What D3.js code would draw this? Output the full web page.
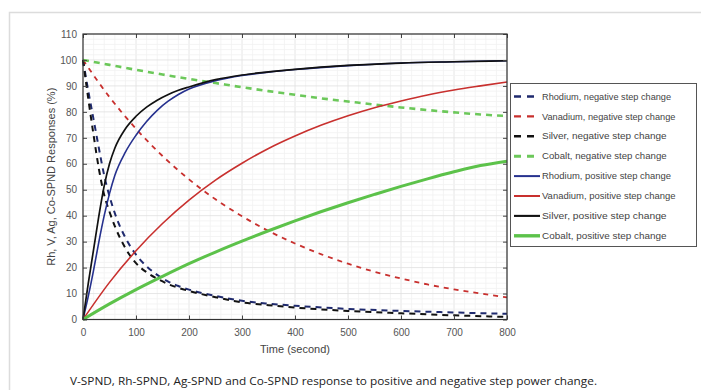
<!DOCTYPE html>
<html>
<head>
<meta charset="utf-8">
<script src="https://cdn.jsdelivr.net/npm/d3@7"></script>
<style>
  body { margin: 0; background: #fff; }
  svg { display: block; }
</style>
</head>
<body>
<div id="chart"></div>
<script>
// time grids (seconds)
const tFast = [0, 10, 20, 30, 40, 50, 60, 80, 100, 120, 140, 160, 180, 200, 250, 300, 350, 400, 500, 600, 700, 800];
const tSlow = [0, 50, 100, 150, 200, 250, 300, 350, 400, 450, 500, 550, 600, 650, 700, 750, 800];

// responses (%)
const rhNeg = [100, 88, 77, 66, 55.5, 47.5, 41, 31.5, 25, 20.5, 17.2, 14.7, 12.9, 11.5, 9.1, 7.2, 6.1, 5.3, 4.1, 3.3, 2.7, 2.2];
const agNeg = [100, 85, 71, 58, 48, 41.5, 36, 27.5, 21.7, 18.2, 15.7, 13.7, 12.2, 11, 8.6, 6.6, 5.5, 4.6, 3.3, 2.4, 1.6, 1.0];
const rhPos = [0, 9, 19, 30, 40, 48.5, 55.5, 64.5, 71, 76.3, 80.6, 84, 86.7, 88.8, 92, 94, 95.3, 96.3, 97.8, 98.8, 99.3, 99.7];
const agPos = [0, 14, 27, 40, 51.5, 60, 66, 73.5, 78.3, 81.8, 84.5, 86.6, 88.3, 89.6, 92.4, 94.2, 95.4, 96.4, 97.9, 98.8, 99.3, 99.7];
const vNeg = [100, 85.7, 73.5, 63, 54, 46.3, 39.8, 34.1, 29.3, 25.1, 21.5, 18.4, 15.8, 13.5, 11.6, 10, 8.5];
const vPos = [0, 14.3, 26.5, 37, 46, 53.7, 60.2, 65.9, 70.7, 74.9, 78.5, 81.6, 84.2, 86.5, 88.4, 90, 91.5];
const coNeg = [100, 98.1, 96.2, 94.4, 92.7, 91.1, 89.5, 88, 86.6, 85.2, 84, 82.8, 81.7, 80.7, 79.8, 79, 78.4];
const coPos = [0, 6, 11.5, 16.6, 21.5, 26, 30.2, 34.2, 38, 41.6, 45, 48.2, 51.3, 54.2, 56.9, 59.3, 61];

const xTicks = [0, 100, 200, 300, 400, 500, 600, 700, 800];
const yTicks = [0, 10, 20, 30, 40, 50, 60, 70, 80, 90, 100, 110];

const series = [
  { name: "Rhodium, negative step change", t: tFast, v: rhNeg, color: "#1f2a6e", width: 2, dash: "6,5" },
  { name: "Vanadium, negative step change", t: tSlow, v: vNeg, color: "#c8302e", width: 1.8, dash: "5,5" },
  { name: "Silver, negative step change", t: tFast, v: agNeg, color: "#111", width: 2, dash: "6,5" },
  { name: "Cobalt, negative step change", t: tSlow, v: coNeg, color: "#6cc85a", width: 2.6, dash: "6,5" },
  { name: "Rhodium, positive step change", t: tFast, v: rhPos, color: "#26318e", width: 1.6, dash: null },
  { name: "Vanadium, positive step change", t: tSlow, v: vPos, color: "#c8302e", width: 1.6, dash: null },
  { name: "Silver, positive step change", t: tFast, v: agPos, color: "#111", width: 1.7, dash: null },
  { name: "Cobalt, positive step change", t: tSlow, v: coPos, color: "#5cc24a", width: 3, dash: null }
];

const W = 701, H = 390;
const plot = { left: 83, right: 507, top: 34, bottom: 319.5 };
const FONT = "'Liberation Sans', Arial, sans-serif";

const svg = d3.select("#chart").append("svg")
  .attr("width", W)
  .attr("height", H)
  .attr("font-family", FONT);

// page frame
svg.append("path")
  .attr("d", `M9.5,${H} V12.5 H${W}`)
  .attr("fill", "none")
  .attr("stroke", "#dcdcdc")
  .attr("stroke-width", 1.5);

const x = d3.scaleLinear().domain([0, 800]).range([plot.left, plot.right]);
const y = d3.scaleLinear().domain([0, 110]).range([plot.bottom, plot.top]);

// grid
const grid = svg.append("g");
grid.selectAll(".xmin").data(d3.range(0, 801, 20))
  .join("line")
  .attr("x1", d => x(d)).attr("x2", d => x(d))
  .attr("y1", plot.top).attr("y2", plot.bottom)
  .attr("stroke", d => d % 100 === 0 ? "#e0e0e0" : "#f1f1f1")
  .attr("stroke-width", 0.8);
grid.selectAll(".ymin").data(d3.range(0, 111, 2))
  .join("line")
  .attr("y1", d => y(d)).attr("y2", d => y(d))
  .attr("x1", plot.left).attr("x2", plot.right)
  .attr("stroke", d => d % 10 === 0 ? "#e0e0e0" : "#f1f1f1")
  .attr("stroke-width", 0.8);

// curves
const line = d3.line()
  .x(d => x(d[0]))
  .y(d => y(d[1]))
  .curve(d3.curveMonotoneX);

svg.append("g")
  .selectAll("path")
  .data(series)
  .join("path")
    .attr("d", s => line(s.t.map((t, i) => [t, s.v[i]])))
    .attr("fill", "none")
    .attr("stroke", s => s.color)
    .attr("stroke-width", s => s.width)
    .attr("stroke-dasharray", s => s.dash);

// axes (box with inward ticks, MATLAB style)
function xAxis(g) {
  g.attr("transform", `translate(0, ${plot.bottom})`)
    .call(d3.axisBottom(x).tickValues(xTicks).tickSizeInner(-4).tickSizeOuter(0).tickPadding(9))
    .attr("font-size", "10px");
}
function yAxis(g) {
  g.attr("transform", `translate(${plot.left}, 0)`)
    .call(d3.axisLeft(y).tickValues(yTicks).tickSizeInner(-4).tickSizeOuter(0).tickPadding(6))
    .attr("font-size", "10px");
}
function xTop(g) {
  g.attr("transform", `translate(0, ${plot.top})`)
    .call(d3.axisTop(x).tickValues(xTicks).tickSizeInner(-4).tickSizeOuter(0).tickFormat(""));
}
function yRight(g) {
  g.attr("transform", `translate(${plot.right}, 0)`)
    .call(d3.axisRight(y).tickValues(yTicks).tickSizeInner(-4).tickSizeOuter(0).tickFormat(""));
}

[xAxis, yAxis, xTop, yRight].forEach(f => {
  const g = svg.append("g").call(f);
  g.select(".domain").remove();
  g.selectAll("line").attr("stroke", "#444");
  g.selectAll("text").attr("fill", "#555").attr("font-family", FONT);
});

svg.append("rect")
  .attr("x", plot.left).attr("y", plot.top)
  .attr("width", plot.right - plot.left).attr("height", plot.bottom - plot.top)
  .attr("fill", "none")
  .attr("stroke", "#333")
  .attr("stroke-width", 1.2);

// axis titles
svg.append("text")
  .attr("x", (plot.left + plot.right) / 2)
  .attr("y", 353)
  .attr("text-anchor", "middle")
  .attr("font-size", "11px")
  .attr("fill", "#444")
  .text("Time (second)");

svg.append("text")
  .attr("transform", `translate(55, ${(plot.top + plot.bottom) / 2}) rotate(-90)`)
  .attr("text-anchor", "middle")
  .attr("font-size", "11px")
  .attr("fill", "#444")
  .text("Rh, V, Ag, Co-SPND Responses (%)");

// legend
const legend = svg.append("g");
legend.append("rect")
  .attr("x", 510.5).attr("y", 83.5)
  .attr("width", 186).attr("height", 163)
  .attr("fill", "#fff")
  .attr("stroke", "#555")
  .attr("stroke-width", 1);

const rows = legend.selectAll("g.row")
  .data(series)
  .join("g")
  .attr("transform", (d, i) => `translate(0, ${96.5 + i * 19.9})`);

rows.append("line")
  .attr("x1", 514).attr("x2", 540)
  .attr("stroke", d => d.color)
  .attr("stroke-width", d => d.width + 0.4)
  .attr("stroke-dasharray", d => d.dash ? "7,6" : null);

rows.append("text")
  .attr("x", 542)
  .attr("dy", "0.35em")
  .attr("font-size", "9px")
  .attr("fill", "#444")
  .attr("textLength", d => d.name.length * 4.45)
  .attr("lengthAdjust", "spacingAndGlyphs")
  .text(d => d.name);

// caption
svg.append("text")
  .attr("x", 70)
  .attr("y", 385)
  .attr("font-size", "11px")
  .attr("font-family", "'Open Sans', 'DejaVu Sans', sans-serif")
  .attr("fill", "#222")
  .attr("textLength", 527)
  .attr("lengthAdjust", "spacingAndGlyphs")
  .text("V-SPND, Rh-SPND, Ag-SPND and Co-SPND response to positive and negative step power change.");
</script>
</body>
</html>
